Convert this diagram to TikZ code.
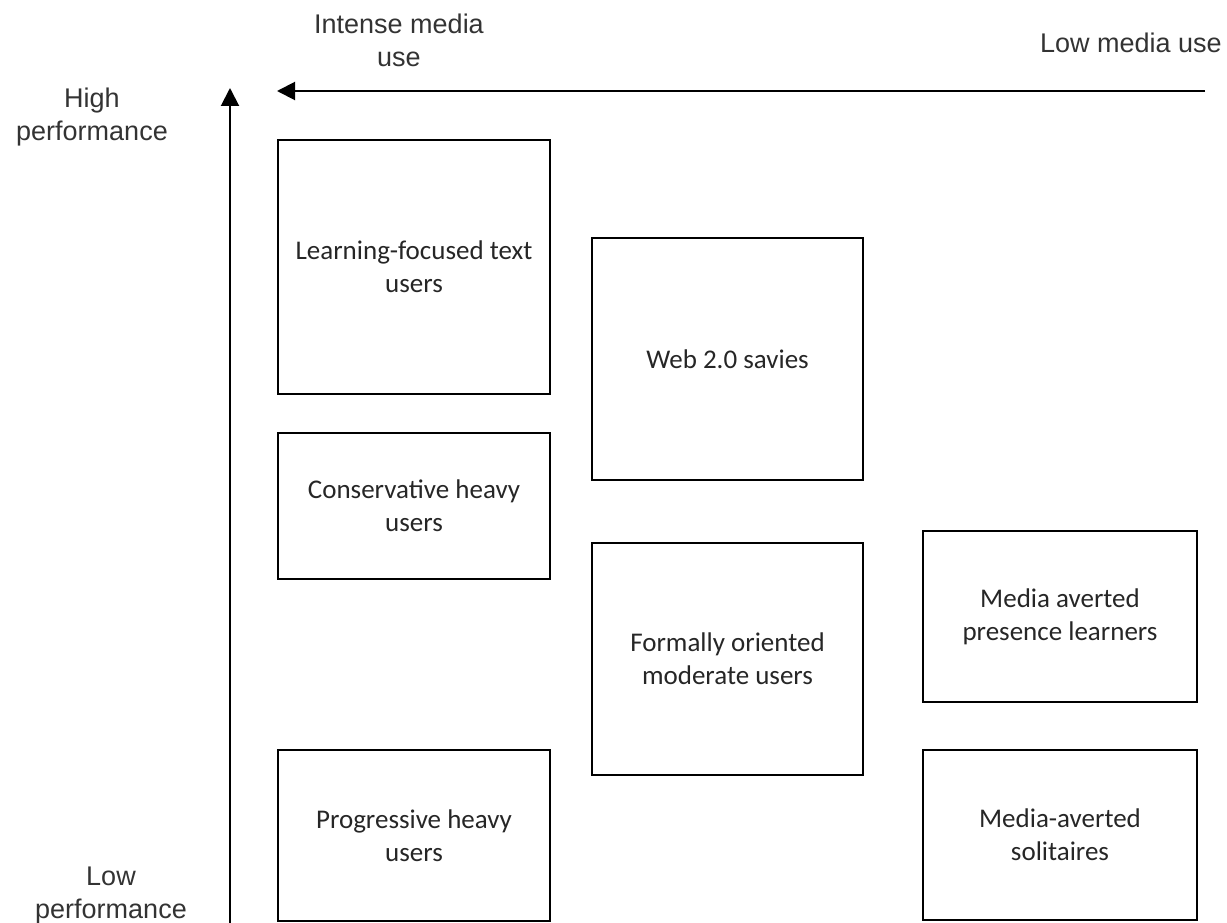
\documentclass[tikz,border=0pt]{standalone}
\usepackage{fontspec}
\setmainfont{Carlito}
\newfontfamily\axisfont{Liberation Sans}
\usetikzlibrary{arrows.meta}
\begin{document}
\begin{tikzpicture}[x=1pt,y=-1pt,
  group/.style={draw=black, line width=2pt, inner sep=0pt, align=center,
    text=black!85, font=\fontsize{27}{33}\selectfont},
  axislabel/.style={inner sep=0pt, align=center, text=black!80,
    font=\axisfont\fontsize{27}{33}\selectfont},
  axis/.style={line width=2pt, -{Triangle[length=18pt,width=18pt]}}]
\useasboundingbox (0,0) rectangle (1227,923);

% user groups
\node[group, minimum width=272pt, minimum height=254pt] (lft) at (414,267) {Learning-focused text\\users};
\node[group, minimum width=271pt, minimum height=242pt] (web) at (727.5,359) {Web 2.0 savies};
\node[group, minimum width=272pt, minimum height=146pt] (cons) at (414,506) {Conservative heavy\\users};
\node[group, minimum width=271pt, minimum height=232pt] (form) at (727.5,659) {Formally oriented\\moderate users};
\node[group, minimum width=274pt, minimum height=171pt] (mapl) at (1060,616.5) {Media averted\\presence learners};
\node[group, minimum width=272pt, minimum height=171pt] (prog) at (414,835.5) {Progressive heavy\\users};
\node[group, minimum width=274pt, minimum height=170pt] (mas) at (1060,835) {Media-averted\\solitaires};

% axes
\coordinate (vbase) at (230,923);
\coordinate (vtip) at (230,88);
\coordinate (hbase) at (1205,91);
\coordinate (htip) at (277,91);
\draw[axis] (vbase) -- (vtip);
\draw[axis] (hbase) -- (htip);

% axis labels
\node[axislabel] (intense) at (399,40) {Intense media\\use};
\node[axislabel] (lowuse) at (1131,43) {Low media use};
\node[axislabel] (highperf) at (92,117) {High\\performance};
\node[axislabel] (lowperf) at (111,896) {Low\\performance};
\end{tikzpicture}
\end{document}
